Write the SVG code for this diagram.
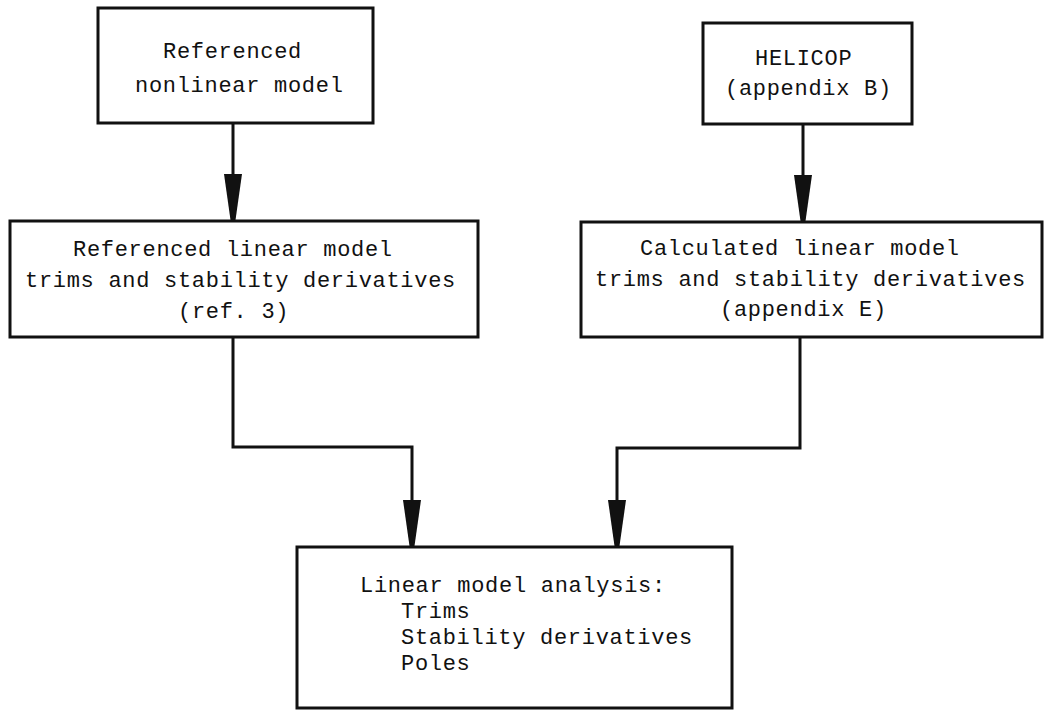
<svg xmlns="http://www.w3.org/2000/svg" width="1045" height="711" viewBox="0 0 1045 711">
<style>
.box{fill:#fff;stroke:#111;stroke-width:3}
.lbl{font-family:"Liberation Mono","DejaVu Sans Mono",monospace;font-size:22px;letter-spacing:0.7px;fill:#111}
.wire{fill:none;stroke:#111;stroke-width:3;stroke-linejoin:miter}
</style>
<defs>
<marker id="ah" markerUnits="userSpaceOnUse" viewBox="0 0 46 18" refX="46" refY="9" markerWidth="46" markerHeight="18" orient="auto">
<path d="M0,0 L46,6.5 L46,11.5 L0,18 Z" fill="#111"/>
</marker>
</defs>
<rect width="1045" height="711" fill="#fff"/>
<g id="connectors">
<path class="wire" d="M233,123 V220" marker-end="url(#ah)"/>
<path class="wire" d="M803,124 V221" marker-end="url(#ah)"/>
<path class="wire" d="M233,337 V447 H412 V546" marker-end="url(#ah)"/>
<path class="wire" d="M800,337 V448 H617 V546" marker-end="url(#ah)"/>
</g>
<g id="ref-nonlinear">
<rect class="box" x="98" y="8" width="275" height="115"/>
<text class="lbl" x="163" y="58">Referenced</text>
<text class="lbl" x="135" y="92">nonlinear model</text>
</g>
<g id="helicop">
<rect class="box" x="703" y="23" width="209" height="101"/>
<text class="lbl" x="755" y="65">HELICOP</text>
<text class="lbl" x="725" y="95">(appendix B)</text>
</g>
<g id="ref-linear">
<rect class="box" x="10" y="221" width="468" height="116"/>
<text class="lbl" x="73" y="256">Referenced linear model</text>
<text class="lbl" x="25" y="287">trims and stability derivatives</text>
<text class="lbl" x="178" y="318">(ref. 3)</text>
</g>
<g id="calc-linear">
<rect class="box" x="581" y="222" width="461" height="115"/>
<text class="lbl" x="640" y="255">Calculated linear model</text>
<text class="lbl" x="595" y="286">trims and stability derivatives</text>
<text class="lbl" x="720" y="316">(appendix E)</text>
</g>
<g id="analysis">
<rect class="box" x="297" y="547" width="435" height="161"/>
<text class="lbl" x="360" y="592">Linear model analysis:</text>
<text class="lbl" x="401" y="618">Trims</text>
<text class="lbl" x="401" y="644">Stability derivatives</text>
<text class="lbl" x="401" y="670">Poles</text>
</g>
</svg>
